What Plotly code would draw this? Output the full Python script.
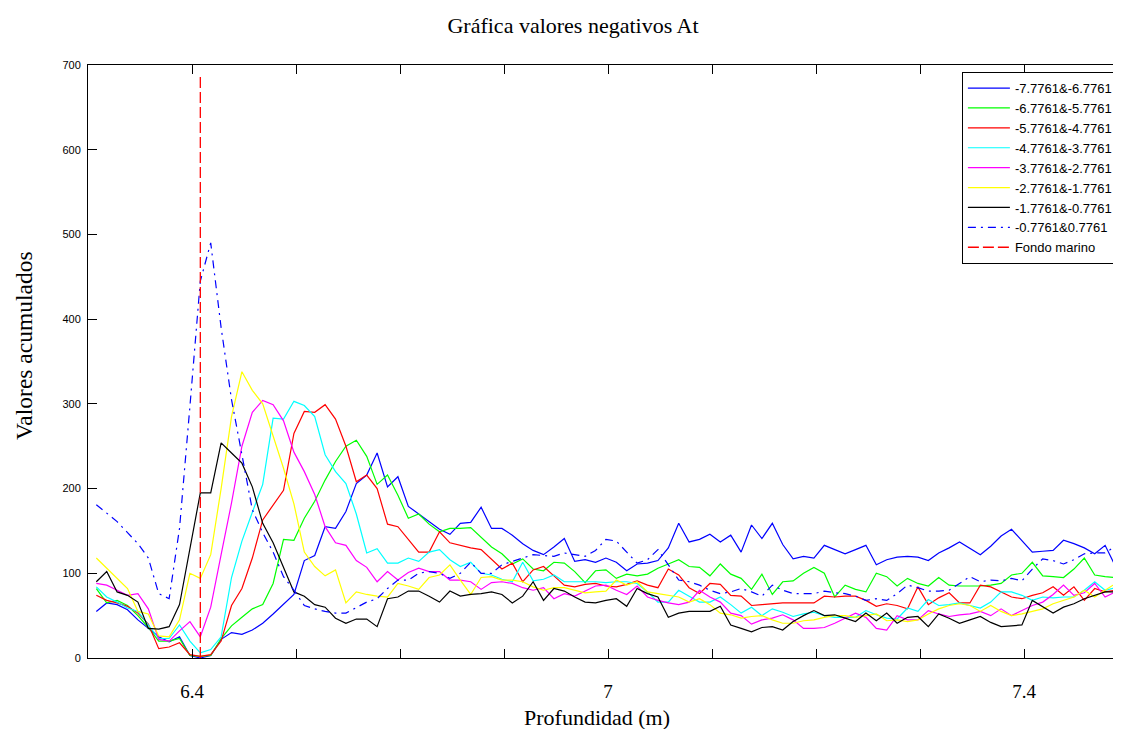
import numpy as np
import plotly.graph_objects as go

# Sample depths (m), regular 0.01 m grid
depth = np.round(6.508 + 0.01 * np.arange(100), 3)

tick_vals = [6.6, 6.7, 6.8, 6.9, 7.0, 7.1, 7.2, 7.3, 7.4]
tick_text = ["6.4", "", "", "", "7", "", "", "", "7.4"]
y_ticks = [0, 100, 200, 300, 400, 500, 600, 700]

seafloor_depth = 6.608
seafloor_top = 690

s_blue = [55, 65, 63, 57, 45, 35, 25, 19, 25, 3,
          0, 3, 22, 30, 28, 33, 41, 52, 64, 75,
          115, 121, 155, 153, 173, 206, 216, 242, 202, 214,
          179, 170, 160, 152, 146, 159, 160, 178, 153, 153,
          145, 135, 127, 122, 131, 141, 114, 116, 113, 118,
          113, 103, 111, 112, 115, 130, 159, 137, 140, 146,
          137, 145, 125, 157, 141, 159, 134, 117, 120, 118,
          133, 128, 123, 128, 133, 110, 116, 119, 120, 119,
          115, 124, 130, 137, 130, 122, 132, 144, 152, 139,
          125, 126, 127, 139, 135, 130, 123, 133, 108, 136]

s_green = [82, 65, 68, 62, 50, 36, 20, 20, 23, 3,
           2, 3, 23, 38, 48, 58, 63, 88, 140, 139,
           165, 185, 210, 232, 250, 257, 238, 205, 216, 192,
           165, 170, 158, 149, 153, 153, 154, 142, 131, 123,
           111, 117, 105, 103, 113, 112, 102, 89, 103, 104,
           94, 99, 97, 99, 106, 111, 116, 108, 107, 97,
           111, 99, 94, 81, 99, 75, 90, 91, 100, 107,
           100, 72, 86, 81, 78, 100, 96, 85, 94, 88,
           85, 95, 86, 85, 85, 85, 86, 88, 98, 100,
           113, 97, 96, 95, 105, 118, 98, 96, 95, 92]

s_red = [74, 68, 65, 61, 53, 40, 11, 13, 18, 4,
         2, 4, 20, 62, 82, 118, 163, 180, 198, 265,
         291, 290, 299, 282, 250, 208, 216, 200, 158, 155,
         140, 125, 125, 149, 136, 133, 130, 128, 116, 105,
         112, 90, 104, 108, 97, 86, 84, 87, 88, 85,
         84, 87, 91, 86, 83, 105, 98, 83, 76, 88,
         87, 74, 73, 62, 63, 64, 65, 65, 65, 65,
         73, 72, 73, 73, 68, 61, 64, 62, 58, 84,
         63, 71, 77, 65, 65, 86, 84, 78, 72, 70,
         74, 77, 84, 74, 84, 68, 82, 78, 80, 80]

s_cyan = [84, 72, 66, 59, 55, 39, 23, 23, 39, 20,
          6, 10, 25, 95, 138, 172, 205, 283, 282, 303,
          298, 285, 240, 220, 206, 170, 124, 129, 112, 112,
          118, 114, 125, 128, 116, 108, 113, 100, 98, 93,
          90, 113, 91, 93, 98, 90, 90, 90, 90, 89,
          90, 90, 88, 78, 66, 66, 80, 73, 66, 66,
          72, 63, 53, 60, 50, 58, 54, 49, 52, 54,
          50, 48, 48, 48, 56, 51, 47, 46, 59, 55,
          69, 62, 63, 65, 62, 59, 66, 78, 78, 74,
          68, 72, 71, 72, 72, 80, 90, 80, 83, 84]

s_magenta = [88, 86, 80, 74, 76, 58, 22, 20, 32, 43,
             25, 60, 122, 183, 250, 290, 304, 299, 280, 243,
             220, 193, 155, 136, 133, 115, 107, 90, 102, 92,
             101, 106, 102, 102, 92, 92, 90, 81, 89, 90,
             88, 83, 80, 83, 70, 76, 73, 79, 85, 86,
             80, 75, 85, 72, 68, 65, 63, 66, 80, 72,
             66, 53, 50, 40, 45, 47, 51, 45, 35, 35,
             36, 41, 47, 53, 48, 35, 33, 50, 45, 45,
             56, 52, 49, 51, 52, 55, 50, 58, 50, 56,
             62, 66, 75, 86, 74, 77, 88, 72, 78, 77]

s_yellow = [118, 106, 94, 82, 55, 52, 26, 25, 45, 100,
            94, 122, 200, 285, 338, 316, 300, 262, 224, 182,
            125, 108, 97, 104, 65, 78, 75, 73, 72, 88,
            85, 81, 95, 98, 110, 92, 75, 95, 96, 92,
            92, 90, 84, 80, 83, 83, 80, 77, 78, 79,
            92, 86, 90, 78, 76, 74, 72, 66, 70, 63,
            53, 51, 47, 49, 50, 45, 41, 41, 44, 45,
            48, 50, 50, 48, 50, 52, 44, 45, 43, 45,
            52, 58, 62, 64, 62, 55, 62, 55, 50, 52,
            55, 58, 64, 68, 72, 80, 72, 80, 88, 90]

s_black = [90, 102, 78, 74, 66, 35, 34, 37, 63, 131,
           195, 195, 254, 242, 230, 202, 159, 136, 108, 78,
           73, 63, 60, 47, 41, 46, 46, 37, 70, 72,
           79, 79, 73, 66, 79, 73, 75, 76, 78, 75,
           65, 73, 90, 68, 82, 79, 72, 66, 65, 68,
           70, 61, 82, 76, 72, 48, 53, 55, 55, 55,
           61, 39, 35, 31, 36, 37, 33, 43, 50, 56,
           50, 51, 47, 43, 53, 44, 53, 41, 48, 49,
           37, 52, 47, 41, 45, 49, 42, 37, 38, 39,
           68, 60, 53, 60, 64, 70, 74, 78, 78, 80]

s_bluedash = [181, 171, 161, 148, 135, 118, 76, 70, 153, 297,
              445, 490, 390, 305, 240, 175, 148, 125, 96, 80,
              62, 58, 55, 53, 53, 60, 66, 70, 82, 92,
              92, 100, 102, 100, 94, 100, 113, 100, 100, 110,
              114, 118, 122, 121, 120, 124, 122, 120, 127, 140,
              138, 125, 112, 116, 128, 110, 92, 90, 86, 80,
              76, 78, 82, 78, 73, 86, 80, 76, 76, 76,
              79, 77, 76, 73, 68, 70, 68, 76, 86, 83,
              79, 79, 80, 88, 96, 90, 92, 91, 94, 91,
              105, 117, 115, 111, 116, 123, 124, 124, 132, 130]

series_names = ["-7.7761&-6.7761", "-6.7761&-5.7761", "-5.7761&-4.7761",
                "-4.7761&-3.7761", "-3.7761&-2.7761", "-2.7761&-1.7761",
                "-1.7761&-0.7761", "-0.7761&0.7761"]
series_values = [s_blue, s_green, s_red, s_cyan, s_magenta, s_yellow, s_black, s_bluedash]
series_colors = ["#0000ff", "#00ff00", "#ff0000", "#00ffff", "#ff00ff", "#ffff00", "#000000", "#0000ff"]
series_dash = ["solid"] * 7 + ["8px,5px,2px,5px"]

fig = go.Figure()
for name, vals, col, dsh in zip(series_names, series_values, series_colors, series_dash):
    fig.add_trace(go.Scatter(x=depth, y=vals, mode="lines", name=name,
                             line=dict(color=col, width=1.2, dash=dsh)))

fig.add_trace(go.Scatter(x=[seafloor_depth, seafloor_depth], y=[0, seafloor_top], mode="lines",
                         name="Fondo marino", line=dict(color="#ff0000", width=1.3, dash="11px,4px")))

# invisible helper trace for the label axis (x2) and right-side tick marks (y2)
fig.add_trace(go.Scatter(x=[depth[0]], y=[0], xaxis="x2", yaxis="y2", mode="markers",
                         marker=dict(opacity=0), showlegend=False, hoverinfo="skip"))

x_left = 6.5
x_right = 6.5 + 1033 / 1040

# page body has an 8 px margin: figure is sized/offset to compensate
W, H = 1113, 721

fig.update_layout(
    width=W, height=H, autosize=False,
    margin=dict(l=80, r=0, t=57, b=71),
    paper_bgcolor="white", plot_bgcolor="white",
    title=dict(text="Gráfica valores negativos At", x=565 / W, xref="container", xanchor="center",
               y=1 - 17 / H, yref="container", yanchor="middle",
               font=dict(family="Liberation Serif", size=22, color="black")),
    xaxis=dict(range=[x_left, x_right], tickvals=tick_vals, showticklabels=False,
               ticks="inside", ticklen=9, tickcolor="black", tickwidth=1,
               showline=True, linecolor="black", linewidth=1, mirror="ticks",
               showgrid=False, zeroline=False),
    xaxis2=dict(range=[x_left, x_right], overlaying="x", side="bottom", anchor="y2",
                tickvals=tick_vals, ticktext=tick_text, ticks="outside", ticklen=16,
                tickcolor="rgba(0,0,0,0)", showline=False, showgrid=False, zeroline=False,
                tickfont=dict(family="Liberation Serif", size=19, color="black")),
    yaxis=dict(range=[0, 700], tickvals=y_ticks, ticks="inside", ticklen=9,
               tickcolor="black", tickwidth=1, showline=True, linecolor="black", linewidth=1,
               mirror=False, showgrid=False, zeroline=False, ticklabelstandoff=4,
               tickfont=dict(family="Liberation Sans", size=11, color="black")),
    yaxis2=dict(range=[0, 700], overlaying="y", side="right", tickvals=y_ticks,
                ticks="inside", ticklen=4, tickcolor="black", showline=False,
                showticklabels=False, showgrid=False, zeroline=False),
    legend=dict(x=0.997, y=0.988, xanchor="right", yanchor="top",
                bgcolor="white", bordercolor="black", borderwidth=1,
                font=dict(family="Liberation Sans", size=13, color="black"),
                tracegroupgap=0, itemwidth=42),
    annotations=[
        dict(text="Profundidad (m)", x=(597 - 88) / 1033, y=-(717 - 658) / 593,
             xref="paper", yref="paper", showarrow=False, xanchor="center", yanchor="middle",
             font=dict(family="Liberation Serif", size=22, color="black")),
        dict(text="Valores acumulados", x=(24 - 88) / 1033, y=(658 - 346) / 593,
             xref="paper", yref="paper", showarrow=False, xanchor="center", yanchor="middle",
             textangle=-90, font=dict(family="Liberation Serif", size=23.5, color="black")),
    ],
    showlegend=True,
)

fig.write_html("out.html")
